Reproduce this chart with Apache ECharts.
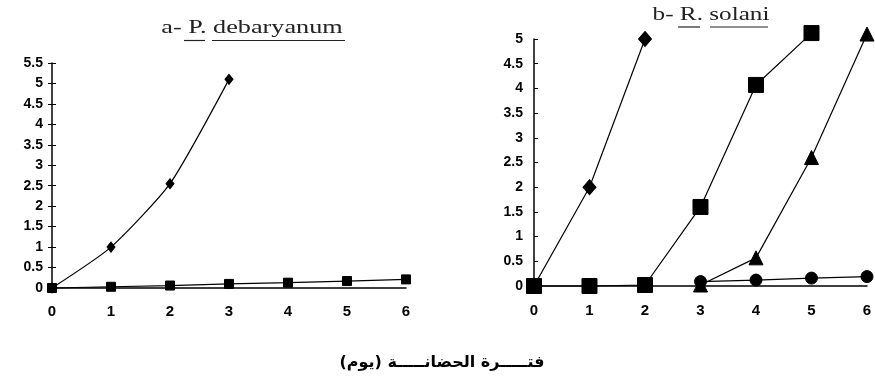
<!DOCTYPE html>
<html><head><meta charset="utf-8">
<script src="https://cdn.jsdelivr.net/npm/echarts@6/dist/echarts.min.js"></script>
<style>html,body{margin:0;padding:0;background:#fff}#c{width:875px;height:385px}</style>
</head><body><div id="c"></div>
<script>
// ---- data ----
const days = [0, 1, 2, 3, 4, 5, 6];
const xTickLabels = [0, 1, 2, 3, 4, 5, 6];
const aDiamond = [0, 1.0, 2.55, 5.1, null, null, null];
const aSquare = [0, 0.03, 0.06, 0.1, 0.13, 0.17, 0.21];
const bDiamond = [0, 2.0, 5.0, null, null, null, null];
const bSquare = [0, 0, 0.02, 1.6, 4.07, 5.12, null];
const bTriangle = [null, null, null, 0.02, 0.57, 2.6, 5.1];
const bCircle = [null, null, null, 0.09, 0.12, 0.16, 0.19];
const titleA = ['a- ', 'P.', ' ', 'debaryanum'];
const titleB = ['b- ', 'R.', ' ', 'solani'];
const xAxisTitle = 'فتـــــرة الحضانـــــة (يوم)';

function pairs(vals) {
  const out = [];
  vals.forEach((v, i) => { if (v !== null) out.push([days[i], v]); });
  return out;
}

const chart = echarts.init(document.getElementById('c'));
const yFont = { color: '#000', fontFamily: 'Liberation Sans', fontWeight: 'bold', fontSize: 14 };
const xFont = { color: '#000', fontFamily: 'Liberation Sans', fontWeight: 'bold', fontSize: 15 };
const axLine = { show: true, lineStyle: { color: '#000', width: 1.5 } };

function lineSeries(data, xi, yi, symbol, size, smooth) {
  return {
    type: 'line', xAxisIndex: xi, yAxisIndex: yi, data: pairs(data),
    symbol: symbol, symbolSize: size, smooth: smooth || false, clip: false,
    lineStyle: { color: '#000', width: 1.2 },
    itemStyle: { color: '#000', borderColor: '#000' },
    animation: false, z: 3
  };
}

chart.setOption({
  animation: false,
  grid: [
    { left: 52, top: 63, width: 354, height: 225 },
    { left: 529, top: 39, width: 338, height: 247 }
  ],
  xAxis: [
    { gridIndex: 0, type: 'value', min: 0, max: 6, interval: 1,
      axisLine: axLine, axisTick: { show: false }, splitLine: { show: false },
      axisLabel: Object.assign({ margin: 16 }, xFont) },
    { gridIndex: 1, type: 'value', min: -0.09, max: 6,
      axisLine: axLine, axisTick: { show: false }, splitLine: { show: false },
      axisLabel: Object.assign({ margin: 17, customValues: xTickLabels }, xFont) }
  ],
  yAxis: [
    { gridIndex: 0, type: 'value', position: 'left', min: 0, max: 5.5, interval: 0.5,
      axisLine: axLine, axisTick: { show: true, length: 4, lineStyle: { color: '#000' } },
      splitLine: { show: false }, axisLabel: Object.assign({ margin: 9 }, yFont) },
    { gridIndex: 0, type: 'value', position: 'left', min: 0, max: 5.5, interval: 0.5,
      axisLine: { show: false }, axisTick: { show: true, inside: true, length: 4, lineStyle: { color: '#000' } },
      splitLine: { show: false }, axisLabel: { show: false } },
    { gridIndex: 1, type: 'value', position: 'left', min: 0, max: 5, interval: 0.5,
      axisLine: axLine, axisTick: { show: true, inside: true, length: 4, lineStyle: { color: '#000' } },
      splitLine: { show: false }, axisLabel: Object.assign({ margin: 6 }, yFont) }
  ],
  series: [
    lineSeries(aDiamond, 0, 0, 'diamond', [8, 10], 0.2),
    lineSeries(aSquare, 0, 0, 'rect', 9),
    lineSeries(bDiamond, 1, 2, 'diamond', [13, 15]),
    lineSeries(bSquare, 1, 2, 'rect', 15),
    lineSeries(bTriangle, 1, 2, 'triangle', 14),
    lineSeries(bCircle, 1, 2, 'circle', 12)
  ],
  graphic: [
    { type: 'text', x: 252, y: 28, scaleX: 1.38,
      style: { text: titleA.join(''), font: '19px "Liberation Serif"', fill: '#222', textAlign: 'center', textVerticalAlign: 'middle' } },
    { type: 'line', shape: { x1: 184, y1: 40.5, x2: 205, y2: 40.5 }, style: { stroke: '#222', lineWidth: 1.2 } },
    { type: 'line', shape: { x1: 212, y1: 40.5, x2: 345, y2: 40.5 }, style: { stroke: '#222', lineWidth: 1.2 } },
    { type: 'text', x: 711, y: 15, scaleX: 1.4,
      style: { text: titleB.join(''), font: '18px "Liberation Serif"', fill: '#222', textAlign: 'center', textVerticalAlign: 'middle' } },
    { type: 'line', shape: { x1: 678, y1: 27, x2: 700, y2: 27 }, style: { stroke: '#222', lineWidth: 1.2 } },
    { type: 'line', shape: { x1: 710, y1: 27, x2: 768, y2: 27 }, style: { stroke: '#222', lineWidth: 1.2 } },
    { type: 'text', x: 442, y: 363,
      style: { text: xAxisTitle, font: 'bold 16px "DejaVu Sans"', fill: '#000', textAlign: 'center', textVerticalAlign: 'middle' } }
  ]
});
</script>
</body></html>
